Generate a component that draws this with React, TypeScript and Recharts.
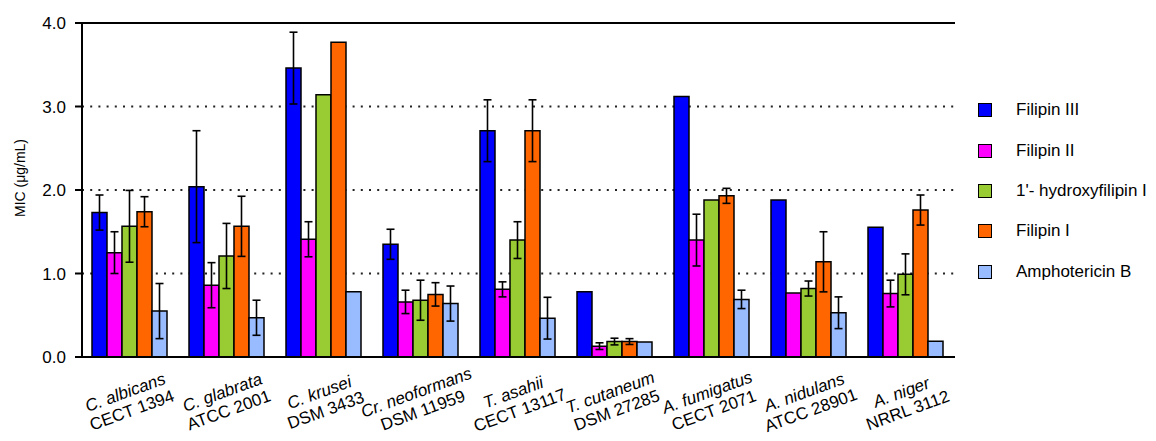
import { BarChart, Bar, XAxis, YAxis, CartesianGrid, ErrorBar, Legend, ReferenceLine, Label } from "recharts";

const species = ["C. albicans", "C. glabrata", "C. krusei", "Cr. neoformans", "T. asahii", "T. cutaneum", "A. fumigatus", "A. nidulans", "A. niger"];
const strains = ["CECT 1394", "ATCC 2001", "DSM 3433", "DSM 11959", "CECT 13117", "DSM 27285", "CECT 2071", "ATCC 28901", "NRRL 3112"];

const filipin3 = [1.73, 2.04, 3.46, 1.35, 2.71, 0.78, 3.12, 1.88, 1.555];
const filipin3Err = [0.21, 0.67, 0.43, 0.18, 0.37, 0, 0, 0, 0];
const filipin2 = [1.25, 0.86, 1.41, 0.66, 0.81, 0.13, 1.4, 0.765, 0.76];
const filipin2Err = [0.25, 0.27, 0.21, 0.14, 0.09, 0.04, 0.31, 0, 0.16];
const hydroxy = [1.565, 1.21, 3.14, 0.68, 1.4, 0.185, 1.88, 0.82, 0.99];
const hydroxyErr = [0.43, 0.39, 0, 0.24, 0.22, 0.04, 0, 0.09, 0.245];
const filipin1 = [1.74, 1.565, 3.77, 0.75, 2.71, 0.185, 1.93, 1.14, 1.76];
const filipin1Err = [0.18, 0.36, 0, 0.14, 0.37, 0.035, 0.09, 0.36, 0.18];
const amphoB = [0.55, 0.47, 0.78, 0.64, 0.465, 0.18, 0.69, 0.53, 0.19];
const amphoBErr = [0.33, 0.21, 0, 0.21, 0.25, 0, 0.11, 0.19, 0];

const yTicks = [0, 1, 2, 3, 4];

const series = [
  { key: "f3", name: "Filipin III", color: "#0000ff", values: filipin3, errors: filipin3Err },
  { key: "f2", name: "Filipin II", color: "#ff00ff", values: filipin2, errors: filipin2Err },
  { key: "hf1", name: "1'- hydroxyfilipin I", color: "#99cc33", values: hydroxy, errors: hydroxyErr },
  { key: "f1", name: "Filipin I", color: "#ff6600", values: filipin1, errors: filipin1Err },
  { key: "amb", name: "Amphotericin B", color: "#99bbff", values: amphoB, errors: amphoBErr },
];

const data = species.map((sp, i) => {
  const row: Record<string, string | number> = { name: sp, strain: strains[i] };
  series.forEach((s) => {
    row[s.key] = s.values[i];
    row[s.key + "Err"] = s.errors[i];
  });
  return row;
});

const FONT = "'Liberation Sans', Arial, sans-serif";

// two-line category label, species in italics
function renderXTick(props: any) {
  const { x, y, index } = props;
  return (
    <text
      key={index}
      transform={`translate(${x - 5},${y + 36}) rotate(-20)`}
      textAnchor="middle"
      fontFamily={FONT}
      fontSize={17}
      fill="#000"
    >
      <tspan x={0} y={5} fontStyle="italic">{species[index]}</tspan>
      <tspan x={0} y={24}>{strains[index]}</tspan>
    </text>
  );
}

function LegendBox() {
  return (
    <div style={{ fontFamily: FONT, fontSize: 17, color: "#000" }}>
      {series.map((s) => (
        <div key={s.key} style={{ height: 40.4, display: "flex", alignItems: "center" }}>
          <span
            style={{
              display: "inline-block",
              width: 12,
              height: 12,
              background: s.color,
              border: "1.5px solid #000",
              marginRight: 24,
            }}
          />
          <span>{s.name}</span>
        </div>
      ))}
    </div>
  );
}

export default function App() {
  return (
    <div style={{ width: 1156, height: 441, background: "#fff" }}>
      <style>{"body{margin:0}"}</style>
      <BarChart
        width={1156}
        height={441}
        data={data}
        margin={{ top: 23, right: 201, bottom: 0, left: 0 }}
        barCategoryGap={10}
        barGap={0}
      >
        <CartesianGrid horizontal vertical={false} stroke="#222" strokeWidth={2} strokeDasharray="2 6.2" />
        <XAxis
          dataKey="name"
          height={84}
          tickLine={false}
          tickSize={0}
          tickMargin={0}
          interval={0}
          axisLine={{ stroke: "#000", strokeWidth: 2 }}
          tick={renderXTick}
        />
        <YAxis
          width={82}
          domain={[0, 4]}
          ticks={yTicks}
          tickFormatter={(v: number) => v.toFixed(1)}
          tickSize={7}
          tickMargin={9}
          axisLine={{ stroke: "#000", strokeWidth: 2 }}
          tickLine={{ stroke: "#000", strokeWidth: 2 }}
          tick={{ fill: "#000", fontSize: 17, fontFamily: FONT }}
        >
          <Label
            content={() => (
              <text
                transform="translate(20,178) rotate(-90)"
                textAnchor="middle"
                dominantBaseline="central"
                fontFamily={FONT}
                fontSize={14}
                fill="#000"
              >
                MIC (μg/mL)
              </text>
            )}
          />
        </YAxis>
        <YAxis
          yAxisId="r"
          orientation="right"
          width={0}
          domain={[0, 4]}
          tick={false}
          tickLine={false}
          axisLine={{ stroke: "#000", strokeWidth: 2 }}
        />
        <ReferenceLine y={4} stroke="#000" strokeWidth={2} />
        <Legend
          layout="vertical"
          align="center"
          verticalAlign="middle"
          wrapperStyle={{ left: 978, top: 90, width: 178 }}
          content={() => <LegendBox />}
        />
        {series.map((s) => (
          <Bar
            key={s.key}
            dataKey={s.key}
            name={s.name}
            fill={s.color}
            stroke="#000"
            strokeWidth={1.5}
            isAnimationActive={false}
          >
            <ErrorBar dataKey={s.key + "Err"} width={4} stroke="#000" strokeWidth={1.6} />
          </Bar>
        ))}
      </BarChart>
    </div>
  );
}
